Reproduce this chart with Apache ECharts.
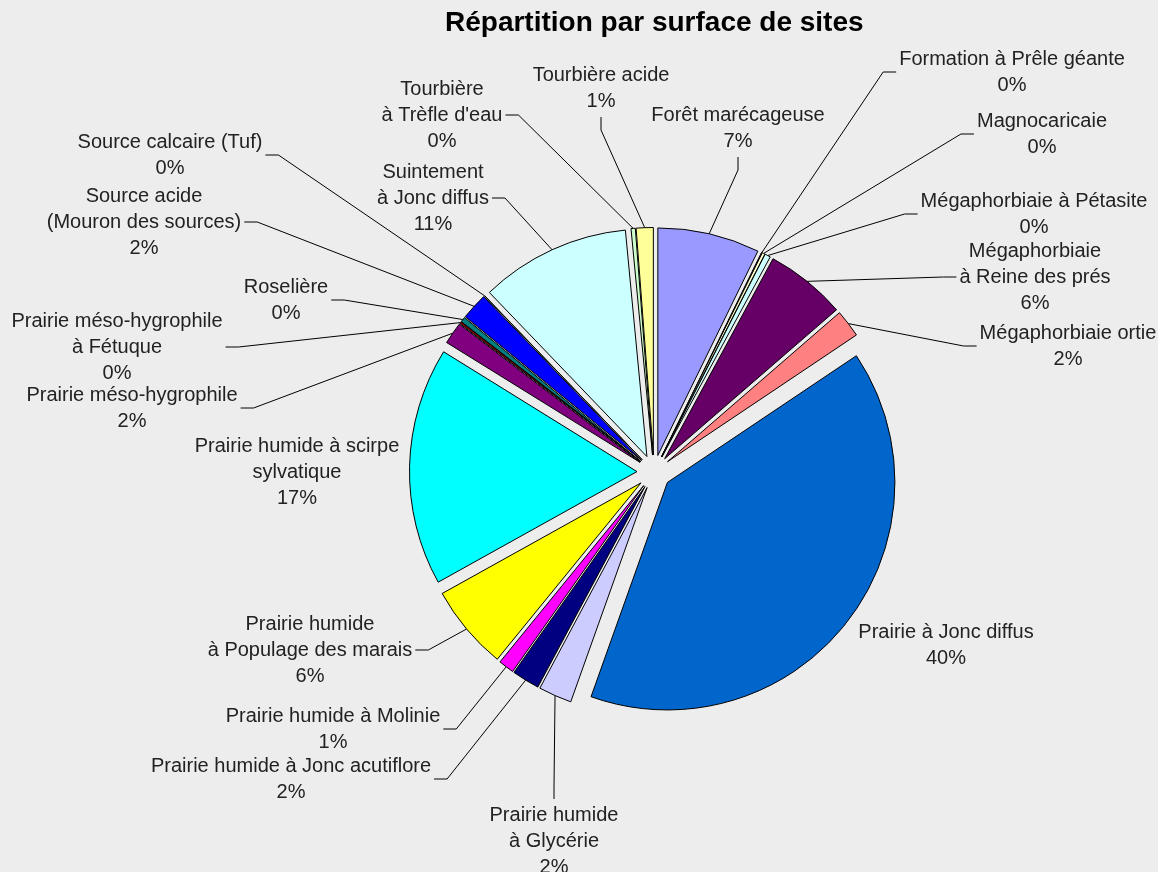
<!DOCTYPE html>
<html>
<head>
<meta charset="utf-8">
<script src="https://cdn.jsdelivr.net/npm/echarts@6/dist/echarts.min.js"></script>
<style>
  html, body { margin: 0; padding: 0; background: #ededed; }
  #chart { width: 1158px; height: 872px; }
</style>
</head>
<body>
<div id="chart"></div>
<script>
// ---- data ----
var categories = [
  "Forêt marécageuse",
  "Formation à Prêle géante",
  "Magnocaricaie",
  "Mégaphorbiaie à Pétasite",
  "Mégaphorbiaie\nà Reine des prés",
  "Mégaphorbiaie ortie",
  "Prairie à Jonc diffus",
  "Prairie humide\nà Glycérie",
  "Prairie humide à Jonc acutiflore",
  "Prairie humide à Molinie",
  "Prairie humide\nà Populage des marais",
  "Prairie humide à scirpe\nsylvatique",
  "Prairie méso-hygrophile",
  "Prairie méso-hygrophile\nà Fétuque",
  "Roselière",
  "Source acide\n(Mouron des sources)",
  "Source calcaire (Tuf)",
  "Suintement\nà Jonc diffus",
  "Tourbière\nà Trèfle d'eau",
  "Tourbière acide"
];
var surfaceShare = [7.2, 0.05, 0.2, 0.4, 5.7, 1.95, 39.6, 2.35, 1.95, 1.1, 6.0, 16.8, 1.55, 0.15, 0.35, 1.9, 0.02, 10.6, 0.3, 1.2];

// ---- styles / layout ----
var sliceColors = ['#9999FF','#993366','#FFFFCC','#CCFFFF','#660066','#FF8080','#0066CC','#CCCCFF','#000080','#FF00FF',
                   '#FFFF00','#00FFFF','#800080','#800000','#008080','#0000FF','#00CCFF','#CCFFFF','#CCFFCC','#FFFF99'];
var labelPos = [[738,128],[1012,72],[1042,134],[1034,214],[1035,277],[1068,346],[946,645],[554,841],[291,779],[333,729],
                [310,650],[297,472],[132,408],[117,347],[286,300],[144,222],[170,155],[433,198],[442,115],[601,88]];
var labelSide = ['b','l','l','l','l','l','n','t','r','r','r','n','r','r','r','r','r','r','r','b'];
var EXPLODE = 17, GAP = 3, SEG = 13;
var PIE_CENTER = [654, 472], PIE_RADIUS = 227.5;

var total = surfaceShare.reduce(function (a, b) { return a + b; }, 0);

var chart = echarts.init(document.getElementById('chart'), null, { renderer: 'canvas' });

// visible exploded slices
var sliceItems = categories.map(function (c, i) {
  return { name: c, value: surfaceShare[i], selected: true, itemStyle: { color: sliceColors[i] } };
});
// invisible twin pie that carries the labels and leader lines
var labelItems = categories.map(function (c, i) {
  return { name: c, value: surfaceShare[i], labelLine: { show: labelSide[i] !== 'n' } };
});

chart.setOption({
  backgroundColor: '#ededed',
  animation: false,
  title: {
    text: 'Répartition par surface de sites',
    left: 445,
    top: 8,
    padding: 0,
    textStyle: { fontFamily: 'Liberation Sans', fontSize: 28, fontWeight: 'bold', color: '#000', lineHeight: 30 }
  },
  series: [{
    type: 'pie',
    center: PIE_CENTER,
    radius: PIE_RADIUS,
    startAngle: 90,
    clockwise: true,
    selectedMode: 'multiple',
    selectedOffset: EXPLODE,
    emphasis: { disabled: true },
    itemStyle: { borderColor: '#000', borderWidth: 1 },
    select: { itemStyle: { borderColor: '#000', borderWidth: 1 } },
    label: { show: false },
    labelLine: { show: false },
    data: sliceItems
  }, {
    type: 'pie',
    center: PIE_CENTER,
    radius: PIE_RADIUS,
    startAngle: 90,
    clockwise: true,
    silent: true,
    selectedMode: false,
    avoidLabelOverlap: false,
    emphasis: { disabled: true },
    itemStyle: { color: 'rgba(0,0,0,0)', borderWidth: 0 },
    label: {
      show: true,
      position: 'outside',
      fontFamily: 'Liberation Sans',
      fontSize: 20,
      lineHeight: 26,
      color: '#222',
      align: 'center',
      formatter: function (p) {
        return p.name + '\n' + Math.round(p.value / total * 100) + '%';
      }
    },
    labelLine: { show: true, length: 5, length2: 5, smooth: false, lineStyle: { color: '#000', width: 1 } },
    labelLayout: function (p) {
      var i = p.dataIndex;
      var pos = labelPos[i], side = labelSide[i];
      var w = p.labelRect.width, h = p.labelRect.height;
      var res = { x: pos[0], y: pos[1], align: 'center', verticalAlign: 'middle', hideOverlap: false, moveOverlap: null };
      var pts = p.labelLinePoints;
      if (pts && pts.length >= 2 && side !== 'n') {
        var p0 = pts[0], p1 = pts[1];
        var dx = p1[0] - p0[0], dy = p1[1] - p0[1];
        var L = Math.sqrt(dx * dx + dy * dy) || 1;
        var s = [p0[0] + dx / L * EXPLODE, p0[1] + dy / L * EXPLODE];
        var a, b;
        if (side === 'l') { a = [pos[0] - w / 2 - GAP, pos[1]]; b = [a[0] - SEG, a[1]]; }
        else if (side === 'r') { a = [pos[0] + w / 2 + GAP, pos[1]]; b = [a[0] + SEG, a[1]]; }
        else if (side === 'b') { a = [pos[0], pos[1] + h / 2 + GAP]; b = [a[0], a[1] + SEG]; }
        else { a = [pos[0], pos[1] - h / 2 - GAP]; b = [a[0], a[1] - SEG]; }
        res.labelLinePoints = [s, b, a];
      }
      return res;
    },
    data: labelItems
  }]
});
</script>
</body>
</html>
